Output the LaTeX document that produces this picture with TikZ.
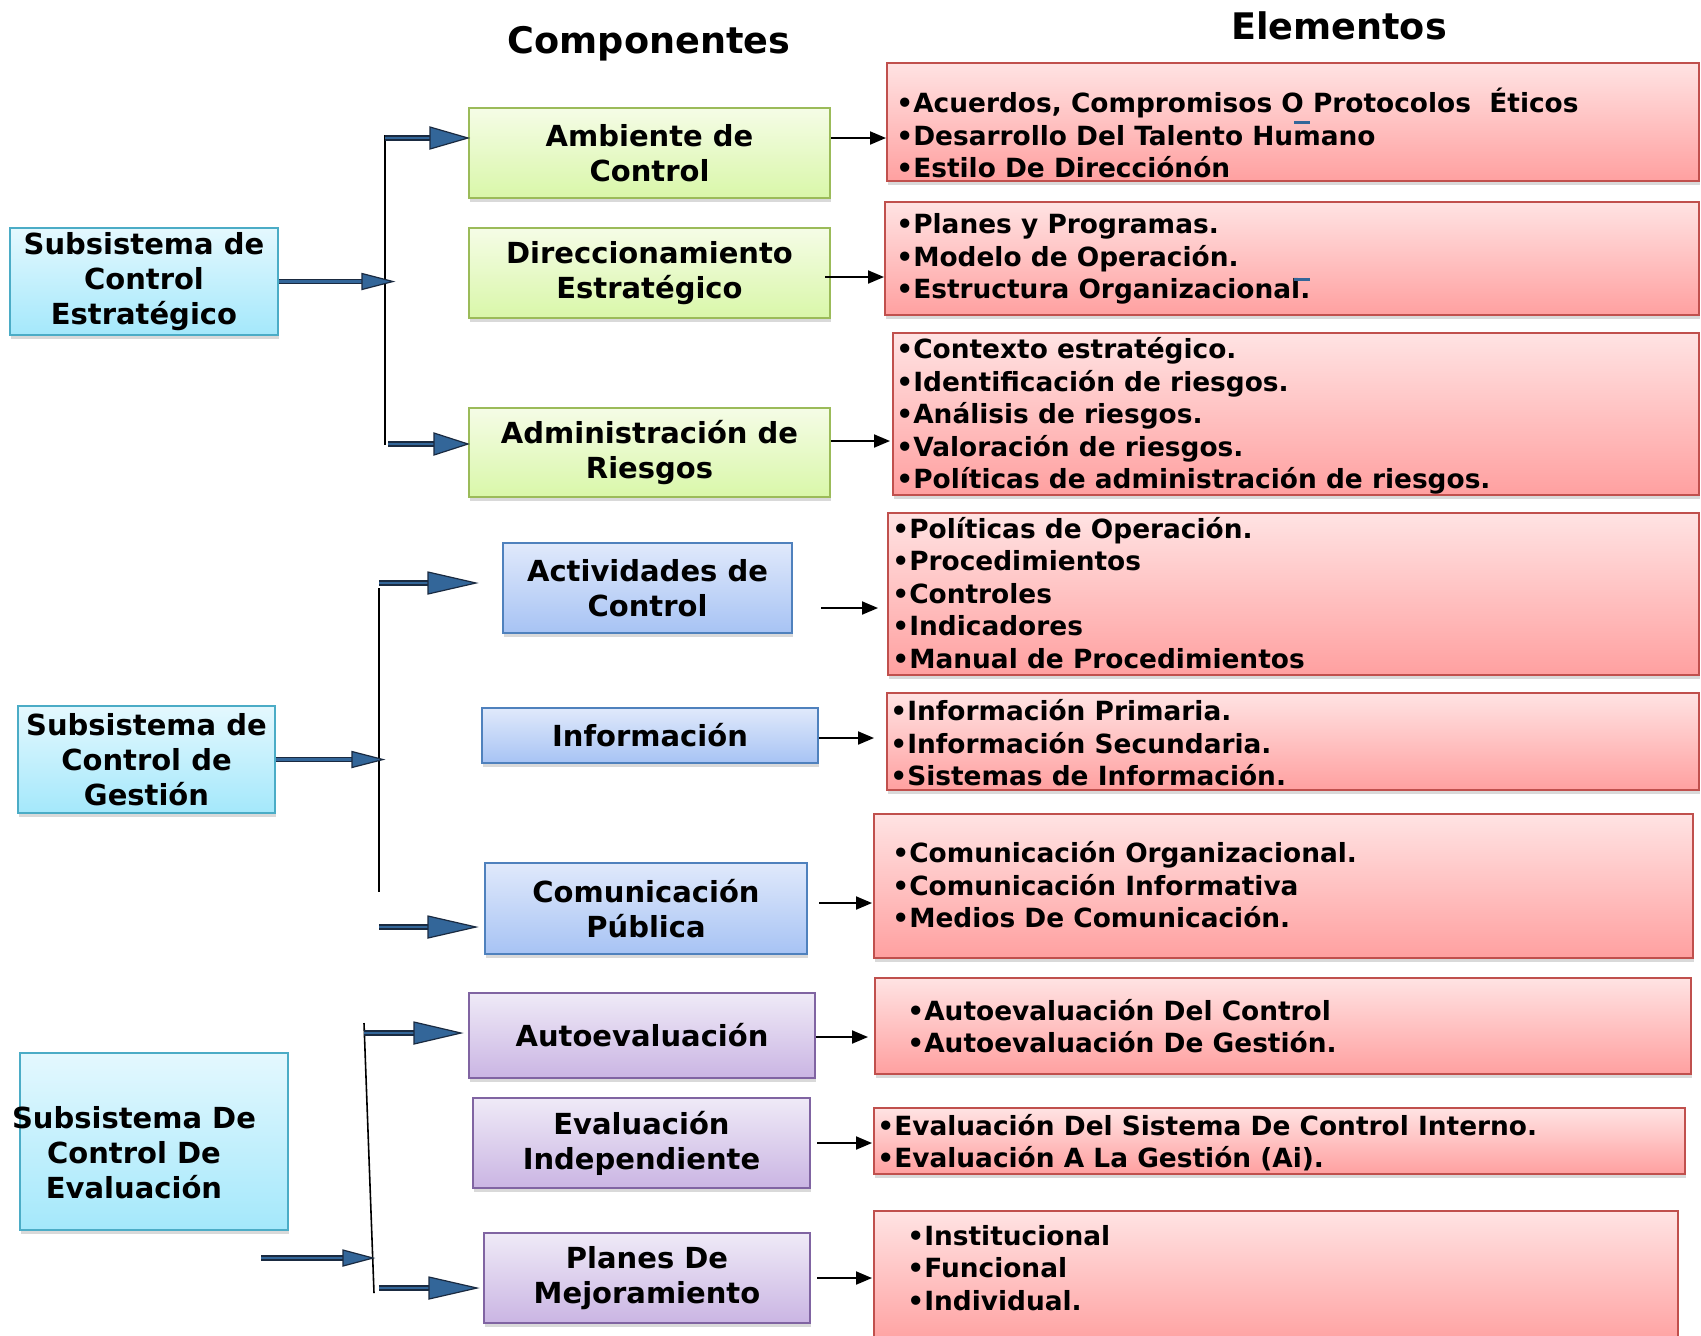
\documentclass[tikz,border=0pt]{standalone}
\usepackage{fontspec}
\setmainfont{DejaVu Sans}
\usetikzlibrary{arrows.meta,shadows,calc}

\definecolor{cyantop}{HTML}{E4F8FE}
\definecolor{cyanbot}{HTML}{A4E8FB}
\definecolor{cyanline}{HTML}{4BACC6}
\definecolor{greentop}{HTML}{F5FCE6}
\definecolor{greenbot}{HTML}{D9F7A9}
\definecolor{greenline}{HTML}{9BBB59}
\definecolor{bluetop}{HTML}{E0E9FB}
\definecolor{bluebot}{HTML}{A7C3F4}
\definecolor{blueline}{HTML}{4F81BD}
\definecolor{purptop}{HTML}{EFEAF7}
\definecolor{purpbot}{HTML}{CAB5E3}
\definecolor{purpline}{HTML}{8064A2}
\definecolor{redtop}{HTML}{FFE3E3}
\definecolor{redbot}{HTML}{FFA0A0}
\definecolor{redline}{HTML}{C0504D}
\definecolor{arrowblue}{HTML}{336699}
\definecolor{arrowline}{HTML}{1A2A40}

% tail, tip, head length, head half width
\newcommand\bluearrow[4]{%
  \draw[shaft] (#1) -- ($(#2)+(-#3,0)$);
  \filldraw[head] ($(#2)+(-#3,-#4)$) -- (#2) -- ($(#2)+(-#3,#4)$) -- cycle;}

\begin{document}
\begin{tikzpicture}[x=0.5pt,y=-0.5pt,
    box/.style={draw,line width=1pt,inner sep=0pt,align=center,
      font=\bfseries\fontsize{14.5}{17.5}\selectfont,
      drop shadow={shadow xshift=0.6pt,shadow yshift=-2pt,opacity=0.3}},
    subsys/.style={box,draw=cyanline,top color=cyantop,bottom color=cyanbot},
    estrat/.style={box,draw=greenline,top color=greentop,bottom color=greenbot},
    gestion/.style={box,draw=blueline,top color=bluetop,bottom color=bluebot},
    evalua/.style={box,draw=purpline,top color=purptop,bottom color=purpbot},
    elem/.style={box,draw=redline,top color=redtop,bottom color=redbot},
    items/.style={inner sep=0pt,anchor=west,align=left,
      font=\bfseries\fontsize{13.2}{16.25}\selectfont},
    titulo/.style={font=\bfseries\fontsize{18.3}{20}\selectfont},
    shaft/.style={draw=arrowline,double=arrowblue,line width=0.6pt,double distance=1.4pt},
    head/.style={fill=arrowblue,draw=arrowline,line width=0.6pt},
    blk/.style={-{Triangle[length=8pt,width=6.5pt]},line width=1pt}]
  \useasboundingbox (0,0) rectangle (1701,1335);

  \node[titulo] (tcomp) at (649,44) {Componentes};
  \node[titulo] (telem) at (1339,26) {Elementos};

  % subsistemas
  \node[subsys,minimum width=134pt,minimum height=53.5pt] (s1) at (144,281.5)
    {Subsistema de\\Control\\Estratégico};
  \node[subsys,minimum width=128.5pt,minimum height=53.5pt] (s2) at (146.5,759.5)
    {Subsistema de\\Control de\\Gestión};
  \node[subsys,minimum width=134pt,minimum height=88.5pt] (s3) at (153.5,1141.5) {};
  \node[align=center,font=\bfseries\fontsize{14.5}{17.5}\selectfont] (s3txt) at (134,1153)
    {Subsistema De\\Control De\\Evaluación};

  % componentes
  \node[estrat,minimum width=180.5pt,minimum height=45pt] (c1) at (649.5,153) {Ambiente de\\Control};
  \node[estrat,minimum width=180.5pt,minimum height=45pt] (c2) at (649.5,273) {Direccionamiento\\Estratégico};
  \node[estrat,minimum width=180.5pt,minimum height=44.5pt] (c3) at (649.5,452.5) {Administración de\\Riesgos};
  \node[gestion,minimum width=144.5pt,minimum height=45pt] (c4) at (647.5,588) {Actividades de\\Control};
  \node[gestion,minimum width=168pt,minimum height=27.5pt] (c5) at (650,735.5) {Información};
  \node[gestion,minimum width=161pt,minimum height=45.5pt] (c6) at (646,908.5) {Comunicación\\Pública};
  \node[evalua,minimum width=173pt,minimum height=42.5pt] (c7) at (642,1035.5) {Autoevaluación};
  \node[evalua,minimum width=168.5pt,minimum height=45pt] (c8) at (641.5,1143) {Evaluación\\Independiente};
  \node[evalua,minimum width=163pt,minimum height=45pt] (c9) at (647,1278) {Planes De\\Mejoramiento};

  % elementos
  \node[elem,minimum width=406pt,minimum height=59pt] (e1) at (1293,122) {};
  \node[elem,minimum width=407pt,minimum height=56.5pt] (e2) at (1292,258.5) {};
  \node[elem,minimum width=403pt,minimum height=81pt] (e3) at (1296,414) {};
  \node[elem,minimum width=405.5pt,minimum height=81pt] (e4) at (1293.5,594) {};
  \node[elem,minimum width=406pt,minimum height=48.5pt] (e5) at (1293,741.5) {};
  \node[elem,minimum width=409.5pt,minimum height=72pt] (e6) at (1283.5,886) {};
  \node[elem,minimum width=408pt,minimum height=48pt] (e7) at (1283,1026) {};
  \node[elem,minimum width=405.5pt,minimum height=33pt] (e8) at (1279.5,1141) {};
  \node[elem,minimum width=402pt,minimum height=67pt] (e9) at (1276,1278) {};

  \node[items] (t1) at (896,133) {•Acuerdos, Compromisos O Protocolos\ \ Éticos\\•Desarrollo Del Talento Humano\\•Estilo De Direcciónón};
  \node[items] (t2) at (896,259) {•Planes y Programas.\\•Modelo de Operación.\\•Estructura Organizacional.};
  \node[items] (t3) at (896,416) {•Contexto estratégico.\\•Identificación de riesgos.\\•Análisis de riesgos.\\•Valoración de riesgos.\\•Políticas de administración de riesgos.};
  \node[items] (t4) at (892,593) {•Políticas de Operación.\\•Procedimientos\\•Controles\\•Indicadores\\•Manual de Procedimientos};
  \node[items] (t5) at (890,743) {•Información Primaria.\\•Información Secundaria.\\•Sistemas de Información.};
  \node[items] (t6) at (892,885) {•Comunicación Organizacional.\\•Comunicación Informativa\\•Medios De Comunicación.};
  \node[items] (t7) at (907,1026) {•Autoevaluación Del Control\\•Autoevaluación De Gestión.};
  \node[items] (t8) at (877,1142.5) {•Evaluación Del Sistema De Control Interno.\\•Evaluación A La Gestión (Ai).};
  \node[items] (t9) at (907,1268) {•Institucional\\•Funcional\\•Individual.};

  \fill[arrowblue] (1294,121) rectangle (1310,124);
  \fill[arrowblue] (1294,278) rectangle (1310,281);

  % barras de reparto
  \coordinate (b1t) at (385,135);  \coordinate (b1b) at (385,445);
  \coordinate (b2t) at (379,588);  \coordinate (b2b) at (379,892);
  \coordinate (b3t) at (364,1023); \coordinate (b3b) at (374,1293);
  \draw[line width=0.8pt] (b1t) -- (b1b);
  \draw[line width=0.8pt] (b2t) -- (b2b);
  \draw[line width=0.8pt] (b3t) -- (b3b);

  \coordinate (j1) at (393,281.5);
  \coordinate (a11) at (385,138);  \coordinate (a13) at (388,444);
  \bluearrow{s1.east}{j1}{31}{8}
  \bluearrow{a11}{c1.west |- a11}{38}{11}
  \bluearrow{a13}{c3.west |- a13}{34}{11}

  \coordinate (j2) at (383,759.5);
  \coordinate (a21) at (379,583);  \coordinate (k21) at (476,583);
  \coordinate (a23) at (379,927);  \coordinate (k23) at (476,927);
  \bluearrow{s2.east}{j2}{31}{8}
  \bluearrow{a21}{k21}{48}{11}
  \bluearrow{a23}{k23}{48}{11}

  \coordinate (k3) at (261,1258);  \coordinate (j3) at (373,1258);
  \coordinate (a31) at (364,1033); \coordinate (k31) at (461,1033);
  \coordinate (a33) at (379,1288); \coordinate (k33) at (477,1288);
  \bluearrow{k3}{j3}{30}{8}
  \bluearrow{a31}{k31}{47}{11}
  \bluearrow{a33}{k33}{48}{11}

  % componente -> elementos
  \foreach \n/\dy/\sa/\sb in {1/7.5/0/0, 2/-2/-3/0, 3/5.75/0/1, 4/-10/14/4.5,
      5/-1.25/0/6, 6/2.75/5.5/0.5, 7/-0.75/0/3, 8/0/3/0.5, 9/0/3/0.5}
    \draw[blk,shorten <=\sa pt,shorten >=\sb pt]
      ([yshift=\dy pt]c\n.east) -- ([yshift=\dy pt]c\n.east -| e\n.west);
\end{tikzpicture}
\end{document}
